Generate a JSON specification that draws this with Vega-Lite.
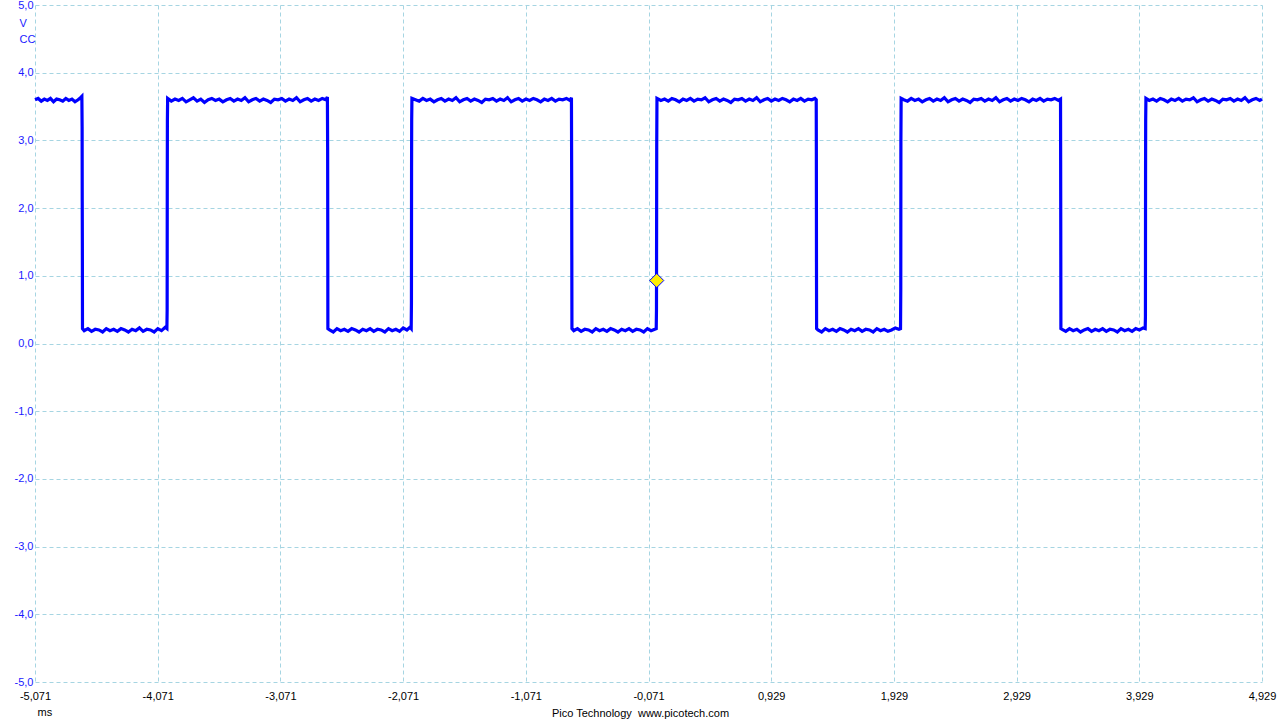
{
  "$schema": "https://vega.github.io/schema/vega-lite/v6.json",
  "width": 1227,
  "height": 677,
  "autosize": {"type": "none"},
  "padding": {"left": 35, "top": 5, "right": 18, "bottom": 38},
  "background": "white",
  "title": {
    "text": "Pico Technology\u00a0 www.picotech.com",
    "orient": "bottom",
    "anchor": "middle",
    "frame": "group",
    "dx": -8,
    "offset": 0,
    "baseline": "alphabetic",
    "font": "Liberation Sans",
    "fontSize": 11,
    "fontWeight": "normal",
    "color": "black"
  },
  "datasets": {
    "wave": [
      {"t": -5.071, "v": 3.60}, {"t": -5.045, "v": 3.62}, {"t": -5.02, "v": 3.58}, {"t": -4.995, "v": 3.61},
      {"t": -4.97, "v": 3.59}, {"t": -4.945, "v": 3.62}, {"t": -4.92, "v": 3.57}, {"t": -4.895, "v": 3.61},
      {"t": -4.87, "v": 3.60}, {"t": -4.845, "v": 3.58}, {"t": -4.82, "v": 3.62}, {"t": -4.795, "v": 3.59},
      {"t": -4.77, "v": 3.61}, {"t": -4.745, "v": 3.57}, {"t": -4.72, "v": 3.60}, {"t": -4.70, "v": 3.63},
      {"t": -4.689, "v": 3.65}, {"t": -4.687, "v": 3.2}, {"t": -4.686, "v": 2.1}, {"t": -4.685, "v": 1.4},
      {"t": -4.684, "v": 0.22},
      {"t": -4.67, "v": 0.19}, {"t": -4.64, "v": 0.22}, {"t": -4.61, "v": 0.18}, {"t": -4.58, "v": 0.21},
      {"t": -4.55, "v": 0.20}, {"t": -4.52, "v": 0.17}, {"t": -4.49, "v": 0.22}, {"t": -4.46, "v": 0.19},
      {"t": -4.43, "v": 0.21}, {"t": -4.40, "v": 0.18}, {"t": -4.37, "v": 0.22}, {"t": -4.34, "v": 0.20},
      {"t": -4.31, "v": 0.17}, {"t": -4.28, "v": 0.21}, {"t": -4.25, "v": 0.19}, {"t": -4.22, "v": 0.23},
      {"t": -4.19, "v": 0.18}, {"t": -4.16, "v": 0.21}, {"t": -4.13, "v": 0.20}, {"t": -4.10, "v": 0.17},
      {"t": -4.07, "v": 0.22}, {"t": -4.04, "v": 0.19}, {"t": -4.01, "v": 0.24}, {"t": -3.996, "v": 0.22},
      {"t": -3.994, "v": 0.5}, {"t": -3.993, "v": 2.4}, {"t": -3.992, "v": 3.3}, {"t": -3.990, "v": 3.62},
      {"t": -3.96, "v": 3.58}, {"t": -3.93, "v": 3.61}, {"t": -3.90, "v": 3.59}, {"t": -3.87, "v": 3.62},
      {"t": -3.84, "v": 3.57}, {"t": -3.81, "v": 3.60}, {"t": -3.78, "v": 3.63}, {"t": -3.75, "v": 3.58},
      {"t": -3.72, "v": 3.61}, {"t": -3.69, "v": 3.56}, {"t": -3.66, "v": 3.60}, {"t": -3.63, "v": 3.62},
      {"t": -3.60, "v": 3.59}, {"t": -3.57, "v": 3.61}, {"t": -3.54, "v": 3.57}, {"t": -3.51, "v": 3.60},
      {"t": -3.48, "v": 3.62}, {"t": -3.45, "v": 3.58}, {"t": -3.42, "v": 3.61}, {"t": -3.39, "v": 3.59},
      {"t": -3.36, "v": 3.63}, {"t": -3.33, "v": 3.57}, {"t": -3.30, "v": 3.60}, {"t": -3.27, "v": 3.62},
      {"t": -3.24, "v": 3.58}, {"t": -3.21, "v": 3.61}, {"t": -3.18, "v": 3.59}, {"t": -3.15, "v": 3.56},
      {"t": -3.12, "v": 3.61}, {"t": -3.09, "v": 3.60}, {"t": -3.06, "v": 3.62}, {"t": -3.03, "v": 3.58},
      {"t": -3.00, "v": 3.61}, {"t": -2.97, "v": 3.59}, {"t": -2.94, "v": 3.63}, {"t": -2.91, "v": 3.57},
      {"t": -2.88, "v": 3.60}, {"t": -2.85, "v": 3.62}, {"t": -2.82, "v": 3.58}, {"t": -2.79, "v": 3.61},
      {"t": -2.76, "v": 3.59}, {"t": -2.73, "v": 3.62}, {"t": -2.70, "v": 3.60}, {"t": -2.688, "v": 3.64},
      {"t": -2.686, "v": 2.9}, {"t": -2.685, "v": 1.8}, {"t": -2.684, "v": 0.22},
      {"t": -2.67, "v": 0.20}, {"t": -2.64, "v": 0.17}, {"t": -2.61, "v": 0.22}, {"t": -2.58, "v": 0.19},
      {"t": -2.55, "v": 0.21}, {"t": -2.52, "v": 0.18}, {"t": -2.49, "v": 0.22}, {"t": -2.46, "v": 0.20},
      {"t": -2.43, "v": 0.17}, {"t": -2.40, "v": 0.21}, {"t": -2.37, "v": 0.19}, {"t": -2.34, "v": 0.22},
      {"t": -2.31, "v": 0.18}, {"t": -2.28, "v": 0.21}, {"t": -2.25, "v": 0.20}, {"t": -2.22, "v": 0.17},
      {"t": -2.19, "v": 0.22}, {"t": -2.16, "v": 0.19}, {"t": -2.13, "v": 0.21}, {"t": -2.10, "v": 0.18},
      {"t": -2.07, "v": 0.23}, {"t": -2.04, "v": 0.20}, {"t": -2.015, "v": 0.24}, {"t": -2.005, "v": 0.22},
      {"t": -2.003, "v": 0.6}, {"t": -2.002, "v": 2.6}, {"t": -2.001, "v": 3.3}, {"t": -1.999, "v": 3.62},
      {"t": -1.97, "v": 3.60}, {"t": -1.94, "v": 3.58}, {"t": -1.91, "v": 3.62}, {"t": -1.88, "v": 3.59},
      {"t": -1.85, "v": 3.61}, {"t": -1.82, "v": 3.57}, {"t": -1.79, "v": 3.60}, {"t": -1.76, "v": 3.62},
      {"t": -1.73, "v": 3.58}, {"t": -1.70, "v": 3.61}, {"t": -1.67, "v": 3.59}, {"t": -1.64, "v": 3.63},
      {"t": -1.61, "v": 3.57}, {"t": -1.58, "v": 3.60}, {"t": -1.55, "v": 3.62}, {"t": -1.52, "v": 3.58},
      {"t": -1.49, "v": 3.61}, {"t": -1.46, "v": 3.59}, {"t": -1.43, "v": 3.56}, {"t": -1.40, "v": 3.61},
      {"t": -1.37, "v": 3.60}, {"t": -1.34, "v": 3.62}, {"t": -1.31, "v": 3.58}, {"t": -1.28, "v": 3.61},
      {"t": -1.25, "v": 3.59}, {"t": -1.22, "v": 3.63}, {"t": -1.19, "v": 3.57}, {"t": -1.16, "v": 3.60},
      {"t": -1.13, "v": 3.62}, {"t": -1.10, "v": 3.58}, {"t": -1.07, "v": 3.61}, {"t": -1.04, "v": 3.59},
      {"t": -1.01, "v": 3.62}, {"t": -0.98, "v": 3.60}, {"t": -0.95, "v": 3.57}, {"t": -0.92, "v": 3.61},
      {"t": -0.89, "v": 3.59}, {"t": -0.86, "v": 3.62}, {"t": -0.83, "v": 3.58}, {"t": -0.80, "v": 3.61},
      {"t": -0.77, "v": 3.60}, {"t": -0.74, "v": 3.62}, {"t": -0.71, "v": 3.59}, {"t": -0.699, "v": 3.63},
      {"t": -0.697, "v": 2.4}, {"t": -0.696, "v": 1.3}, {"t": -0.695, "v": 0.22},
      {"t": -0.68, "v": 0.19}, {"t": -0.65, "v": 0.22}, {"t": -0.62, "v": 0.18}, {"t": -0.59, "v": 0.21},
      {"t": -0.56, "v": 0.20}, {"t": -0.53, "v": 0.17}, {"t": -0.50, "v": 0.22}, {"t": -0.47, "v": 0.19},
      {"t": -0.44, "v": 0.21}, {"t": -0.41, "v": 0.18}, {"t": -0.38, "v": 0.22}, {"t": -0.35, "v": 0.20},
      {"t": -0.32, "v": 0.17}, {"t": -0.29, "v": 0.21}, {"t": -0.26, "v": 0.19}, {"t": -0.23, "v": 0.22},
      {"t": -0.20, "v": 0.18}, {"t": -0.17, "v": 0.21}, {"t": -0.14, "v": 0.20}, {"t": -0.11, "v": 0.17},
      {"t": -0.08, "v": 0.22}, {"t": -0.05, "v": 0.19}, {"t": -0.02, "v": 0.21}, {"t": -0.008, "v": 0.22},
      {"t": -0.006, "v": 0.5}, {"t": -0.005, "v": 1.6}, {"t": -0.004, "v": 2.9}, {"t": -0.002, "v": 3.62},
      {"t": 0.03, "v": 3.59}, {"t": 0.06, "v": 3.61}, {"t": 0.09, "v": 3.58}, {"t": 0.12, "v": 3.62},
      {"t": 0.15, "v": 3.60}, {"t": 0.18, "v": 3.57}, {"t": 0.21, "v": 3.61}, {"t": 0.24, "v": 3.59},
      {"t": 0.27, "v": 3.62}, {"t": 0.30, "v": 3.58}, {"t": 0.33, "v": 3.61}, {"t": 0.36, "v": 3.60},
      {"t": 0.39, "v": 3.63}, {"t": 0.42, "v": 3.57}, {"t": 0.45, "v": 3.60}, {"t": 0.48, "v": 3.62},
      {"t": 0.51, "v": 3.58}, {"t": 0.54, "v": 3.61}, {"t": 0.57, "v": 3.59}, {"t": 0.60, "v": 3.56},
      {"t": 0.63, "v": 3.61}, {"t": 0.66, "v": 3.60}, {"t": 0.69, "v": 3.62}, {"t": 0.72, "v": 3.58},
      {"t": 0.75, "v": 3.61}, {"t": 0.78, "v": 3.59}, {"t": 0.81, "v": 3.63}, {"t": 0.84, "v": 3.57},
      {"t": 0.87, "v": 3.60}, {"t": 0.90, "v": 3.62}, {"t": 0.93, "v": 3.58}, {"t": 0.96, "v": 3.61},
      {"t": 0.99, "v": 3.59}, {"t": 1.02, "v": 3.62}, {"t": 1.05, "v": 3.60}, {"t": 1.08, "v": 3.57},
      {"t": 1.11, "v": 3.61}, {"t": 1.14, "v": 3.59}, {"t": 1.17, "v": 3.62}, {"t": 1.20, "v": 3.58},
      {"t": 1.23, "v": 3.61}, {"t": 1.26, "v": 3.60}, {"t": 1.285, "v": 3.62}, {"t": 1.296, "v": 3.60},
      {"t": 1.297, "v": 2.8}, {"t": 1.298, "v": 1.2}, {"t": 1.299, "v": 0.22},
      {"t": 1.31, "v": 0.20}, {"t": 1.34, "v": 0.17}, {"t": 1.37, "v": 0.22}, {"t": 1.40, "v": 0.19},
      {"t": 1.43, "v": 0.21}, {"t": 1.46, "v": 0.18}, {"t": 1.49, "v": 0.22}, {"t": 1.52, "v": 0.20},
      {"t": 1.55, "v": 0.17}, {"t": 1.58, "v": 0.21}, {"t": 1.61, "v": 0.19}, {"t": 1.64, "v": 0.22},
      {"t": 1.67, "v": 0.18}, {"t": 1.70, "v": 0.21}, {"t": 1.73, "v": 0.20}, {"t": 1.76, "v": 0.17},
      {"t": 1.79, "v": 0.22}, {"t": 1.82, "v": 0.19}, {"t": 1.85, "v": 0.21}, {"t": 1.88, "v": 0.18},
      {"t": 1.91, "v": 0.20}, {"t": 1.94, "v": 0.23}, {"t": 1.97, "v": 0.21}, {"t": 1.983, "v": 0.22},
      {"t": 1.985, "v": 0.8}, {"t": 1.986, "v": 3.0}, {"t": 1.988, "v": 3.62},
      {"t": 2.01, "v": 3.60}, {"t": 2.04, "v": 3.58}, {"t": 2.07, "v": 3.62}, {"t": 2.10, "v": 3.59},
      {"t": 2.13, "v": 3.61}, {"t": 2.16, "v": 3.57}, {"t": 2.19, "v": 3.60}, {"t": 2.22, "v": 3.62},
      {"t": 2.25, "v": 3.58}, {"t": 2.28, "v": 3.61}, {"t": 2.31, "v": 3.59}, {"t": 2.34, "v": 3.63},
      {"t": 2.37, "v": 3.57}, {"t": 2.40, "v": 3.60}, {"t": 2.43, "v": 3.62}, {"t": 2.46, "v": 3.58},
      {"t": 2.49, "v": 3.61}, {"t": 2.52, "v": 3.59}, {"t": 2.55, "v": 3.56}, {"t": 2.58, "v": 3.61},
      {"t": 2.61, "v": 3.60}, {"t": 2.64, "v": 3.62}, {"t": 2.67, "v": 3.58}, {"t": 2.70, "v": 3.61},
      {"t": 2.73, "v": 3.59}, {"t": 2.76, "v": 3.63}, {"t": 2.79, "v": 3.57}, {"t": 2.82, "v": 3.60},
      {"t": 2.85, "v": 3.62}, {"t": 2.88, "v": 3.58}, {"t": 2.91, "v": 3.61}, {"t": 2.94, "v": 3.59},
      {"t": 2.97, "v": 3.62}, {"t": 3.00, "v": 3.60}, {"t": 3.03, "v": 3.57}, {"t": 3.06, "v": 3.61},
      {"t": 3.09, "v": 3.59}, {"t": 3.12, "v": 3.62}, {"t": 3.15, "v": 3.58}, {"t": 3.18, "v": 3.61},
      {"t": 3.21, "v": 3.60}, {"t": 3.24, "v": 3.62}, {"t": 3.27, "v": 3.59}, {"t": 3.287, "v": 3.61},
      {"t": 3.288, "v": 2.7}, {"t": 3.289, "v": 1.6}, {"t": 3.290, "v": 0.22},
      {"t": 3.30, "v": 0.21}, {"t": 3.33, "v": 0.18}, {"t": 3.36, "v": 0.22}, {"t": 3.39, "v": 0.19},
      {"t": 3.42, "v": 0.21}, {"t": 3.45, "v": 0.17}, {"t": 3.48, "v": 0.20}, {"t": 3.51, "v": 0.22},
      {"t": 3.54, "v": 0.18}, {"t": 3.57, "v": 0.21}, {"t": 3.60, "v": 0.19}, {"t": 3.63, "v": 0.22},
      {"t": 3.66, "v": 0.18}, {"t": 3.69, "v": 0.21}, {"t": 3.72, "v": 0.20}, {"t": 3.75, "v": 0.17},
      {"t": 3.78, "v": 0.22}, {"t": 3.81, "v": 0.19}, {"t": 3.84, "v": 0.21}, {"t": 3.87, "v": 0.18},
      {"t": 3.90, "v": 0.22}, {"t": 3.93, "v": 0.20}, {"t": 3.96, "v": 0.23}, {"t": 3.977, "v": 0.22},
      {"t": 3.979, "v": 0.4}, {"t": 3.980, "v": 2.5}, {"t": 3.981, "v": 3.3}, {"t": 3.983, "v": 3.62},
      {"t": 4.01, "v": 3.59}, {"t": 4.04, "v": 3.61}, {"t": 4.07, "v": 3.58}, {"t": 4.10, "v": 3.62},
      {"t": 4.13, "v": 3.60}, {"t": 4.16, "v": 3.57}, {"t": 4.19, "v": 3.61}, {"t": 4.22, "v": 3.59},
      {"t": 4.25, "v": 3.62}, {"t": 4.28, "v": 3.58}, {"t": 4.31, "v": 3.61}, {"t": 4.34, "v": 3.60},
      {"t": 4.37, "v": 3.63}, {"t": 4.40, "v": 3.57}, {"t": 4.43, "v": 3.60}, {"t": 4.46, "v": 3.62},
      {"t": 4.49, "v": 3.58}, {"t": 4.52, "v": 3.61}, {"t": 4.55, "v": 3.59}, {"t": 4.58, "v": 3.56},
      {"t": 4.61, "v": 3.61}, {"t": 4.64, "v": 3.60}, {"t": 4.67, "v": 3.62}, {"t": 4.70, "v": 3.58},
      {"t": 4.73, "v": 3.61}, {"t": 4.76, "v": 3.59}, {"t": 4.79, "v": 3.63}, {"t": 4.82, "v": 3.57},
      {"t": 4.85, "v": 3.60}, {"t": 4.88, "v": 3.62}, {"t": 4.91, "v": 3.59}, {"t": 4.929, "v": 3.61}
    ],
    "trig": [{"t": -0.004, "v": 0.93}]
  },
  "encoding": {
    "x": {
      "field": "t",
      "type": "quantitative",
      "scale": {"domain": [-5.071, 4.929], "nice": false, "zero": false},
      "axis": {
        "values": [-5.071, -4.071, -3.071, -2.071, -1.071, -0.071, 0.929, 1.929, 2.929, 3.929, 4.929],
        "format": ".3f",
        "grid": true,
        "gridColor": "#a6d5e2",
        "gridDash": [4, 3],
        "gridWidth": 1,
        "gridOpacity": 1,
        "domain": false,
        "ticks": false,
        "tickSize": 0,
        "labelPadding": 8,
        "labelFont": "Liberation Sans",
        "labelFontSize": 11,
        "labelColor": "black",
        "labelFlush": false,
        "labelOverlap": false,
        "labelBound": false,
        "title": "ms",
        "titleFont": "Liberation Sans",
        "titleFontSize": 11,
        "titleFontWeight": "normal",
        "titleColor": "black",
        "titleAnchor": "start",
        "titleAlign": "left",
        "titleBaseline": "alphabetic",
        "titleX": 2,
        "titleY": 33
      }
    },
    "y": {
      "field": "v",
      "type": "quantitative",
      "scale": {"domain": [-5, 5], "nice": false, "zero": false},
      "axis": {
        "values": [-5, -4, -3, -2, -1, 0, 1, 2, 3, 4, 5],
        "format": ".1f",
        "grid": true,
        "gridColor": "#a6d5e2",
        "gridDash": [4, 3],
        "gridWidth": 1,
        "gridOpacity": 1,
        "domain": false,
        "ticks": false,
        "tickSize": 0,
        "labelPadding": 2,
        "labelFont": "Liberation Sans",
        "labelFontSize": 11,
        "labelColor": "#1a1aff",
        "labelFlush": false,
        "labelOverlap": false,
        "labelBound": false,
        "title": ["V", "CC"],
        "titleFont": "Liberation Sans",
        "titleFontSize": 11,
        "titleFontWeight": "normal",
        "titleColor": "#1a1aff",
        "titleAngle": 0,
        "titleAlign": "left",
        "titleBaseline": "alphabetic",
        "titleLineHeight": 16,
        "titleX": -16,
        "titleY": 21
      }
    }
  },
  "layer": [
    {
      "data": {"name": "wave"},
      "mark": {"type": "line", "color": "#0000ff", "strokeWidth": 3.2, "interpolate": "linear"}
    },
    {
      "data": {"name": "trig"},
      "mark": {"type": "point", "shape": "diamond", "filled": true, "fill": "#ffee00", "stroke": "#0000ff", "strokeWidth": 1, "size": 200, "opacity": 1}
    }
  ],
  "config": {
    "locale": {"number": {"decimal": ",", "thousands": ".", "grouping": [3], "currency": ["", " €"], "minus": "-"}},
    "view": {"stroke": null},
    "font": "Liberation Sans"
  }
}
